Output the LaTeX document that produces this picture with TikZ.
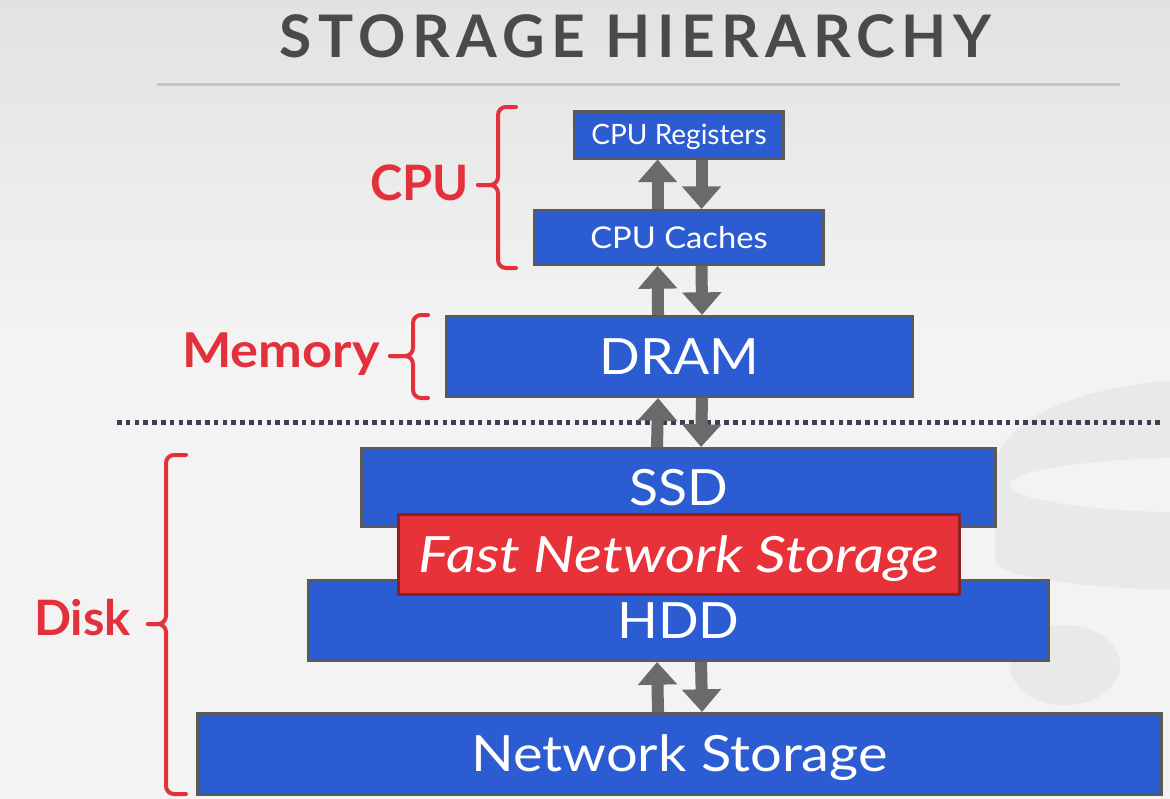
\documentclass[tikz,border=0pt]{standalone}
\usepackage{fontspec}
\setmainfont{Lato}
\newfontfamily\titlefont[LetterSpace=11]{Lato}
\newfontfamily\wideA[FakeStretch=1.07]{Lato}
\newfontfamily\wideB[FakeStretch=1.12]{Lato}
\newfontfamily\wideC[FakeStretch=1.17]{Lato}
\newfontfamily\wideD[FakeStretch=1.09]{Lato}
\usetikzlibrary{arrows.meta}
\definecolor{boxblue}{HTML}{2B5CD1}
\definecolor{boxborder}{HTML}{5A5A5A}
\definecolor{fastred}{HTML}{E8323A}
\definecolor{fastborder}{HTML}{8E1F22}
\definecolor{arrowgray}{HTML}{6A6A6A}
\definecolor{labelred}{HTML}{E3313C}
\definecolor{titlegray}{HTML}{4A4A4A}
\definecolor{dotcol}{HTML}{3B3F52}
\definecolor{rulegray}{HTML}{C4C4C4}
\definecolor{bgtop}{HTML}{E2E2E2}
\definecolor{bgmid}{HTML}{F3F3F3}
\definecolor{wmark}{HTML}{E9E9E9}
\pgfdeclarelayer{back}
\pgfdeclarelayer{bg}
\pgfsetlayers{back,bg,main}
\tikzset{
  box/.style={draw=boxborder, fill=boxblue, line width=2.25pt, inner sep=0pt, text=white, text depth=0pt},
  fastbox/.style={draw=fastborder, fill=fastred, line width=2.25pt, inner sep=0pt, text=white, text depth=0pt},
  bigtext/.style={font=\wideA\fontsize{37.5}{40}\selectfont, text height=26.9pt},
  smalltext/.style={font=\fontsize{21}{24}\selectfont, text height=15pt},
  midtext/.style={font=\wideD\fontsize{22.5}{26}\selectfont, text height=16.1pt},
  biarrow/.style={draw=arrowgray, line width=9pt, -{Triangle[width=28.5pt,length=17pt]}},
  bracepath/.style={draw=labelred, line width=3pt, rounded corners=6pt, line cap=round},
  redlabel/.style={text=labelred, font=\bfseries\fontsize{36.6}{40}\selectfont, inner sep=0pt, anchor=base east},
}
\begin{document}
\begin{tikzpicture}[x=0.75pt,y=-0.75pt]
\useasboundingbox (0,0) rectangle (1170,799);
% background
\begin{pgfonlayer}{back}
\shade[top color=bgtop, bottom color=bgmid] (0,0) rectangle (1170,330);
\fill[bgmid] (0,329) rectangle (1170,799);
\begin{scope}
\clip (0,0) rectangle (1170,799);
\fill[wmark] (1200,470) ellipse[x radius=205, y radius=90];
\fill[wmark] (995,470) rectangle (1170,560);
\fill[wmark] (1200,560) ellipse[x radius=205, y radius=30];
\fill[bgmid] (1215,485) ellipse[x radius=205, y radius=28];
\fill[wmark] (1065,665) ellipse[x radius=55, y radius=40];
\end{scope}
\end{pgfonlayer}
% title
\node[text=titlegray, font=\titlefont\bfseries\fontsize{44}{44}\selectfont, inner sep=0pt, anchor=base] (title) at (635.5,58) {STORAGE HIERARCHY};
\coordinate (ruleL) at (157,85);
\coordinate (ruleR) at (1120,85);
\draw[rulegray, line width=2.25pt] (ruleL) -- (ruleR);
% boxes
\node[box, smalltext, minimum width=156.75pt, minimum height=35.25pt] (reg) at (679,134.5) {CPU Registers};
\node[box, midtext, minimum width=216.75pt, minimum height=40.5pt] (cache) at (679,237.5) {CPU Caches};
\node[box, bigtext, minimum width=349.5pt, minimum height=60pt] (dram) at (679.5,356.5) {DRAM};
\node[box, bigtext, minimum width=475.5pt, minimum height=58.5pt] (ssd) at (678.5,487.5) {SSD};
\node[box, bigtext, minimum width=555pt, minimum height=60pt] (hdd) at (678.5,620.5) {HDD};
\node[box, bigtext, font=\wideB\fontsize{37.5}{40}\selectfont, minimum width=723pt, minimum height=60.75pt] (net) at (679.5,754) {Network Storage};
\node[fastbox, bigtext, font=\wideC\itshape\fontsize{37.5}{40}\selectfont, minimum width=420.75pt, minimum height=60pt] (fast) at (679,554.5) {Fast Network Storage};
% dotted separator and arrows
\coordinate (dotL) at (117,422);
\coordinate (dotR) at (1162,422);
\begin{pgfonlayer}{bg}
\draw[dotcol, line width=3.75pt, dash pattern=on 3.45pt off 3.15pt] (dotL) -- (dotR);
\foreach \lo/\hi in {cache/reg, dram/cache, ssd/dram, net/hdd}{
  \draw[biarrow] ([xshift=-16.1pt]\lo.north) -- ([xshift=-16.1pt]\hi.south);
  \draw[biarrow] ([xshift=16.9pt]\hi.south) -- ([xshift=16.9pt]\lo.north);
}
\end{pgfonlayer}
% braces
\coordinate (cpuT) at (516,107);
\coordinate (cpuB) at (516,268);
\coordinate (cpuTip) at (478,185);
\draw[bracepath] (cpuT) -- (498,107) -- (498,185) -- (cpuTip);
\draw[bracepath] (cpuTip) -- (498,185) -- (498,268) -- (cpuB);
\node[redlabel] (cpulab) at (469,200) {CPU};
\coordinate (memT) at (428,315);
\coordinate (memB) at (428,398);
\coordinate (memTip) at (390,356);
\draw[bracepath] (memT) -- (413,315) -- (413,356) -- (memTip);
\draw[bracepath] (memTip) -- (413,356) -- (413,398) -- (memB);
\node[redlabel, font=\wideD\bfseries\fontsize{36}{40}\selectfont] (memlab) at (380,367) {Memory};
\coordinate (diskT) at (186,455);
\coordinate (diskB) at (186,794);
\coordinate (diskTip) at (148,624);
\draw[bracepath] (diskT) -- (166,455) -- (166,624) -- (diskTip);
\draw[bracepath] (diskTip) -- (166,624) -- (166,794) -- (diskB);
\node[redlabel] (disklab) at (131,635) {Disk};
\end{tikzpicture}
\end{document}
